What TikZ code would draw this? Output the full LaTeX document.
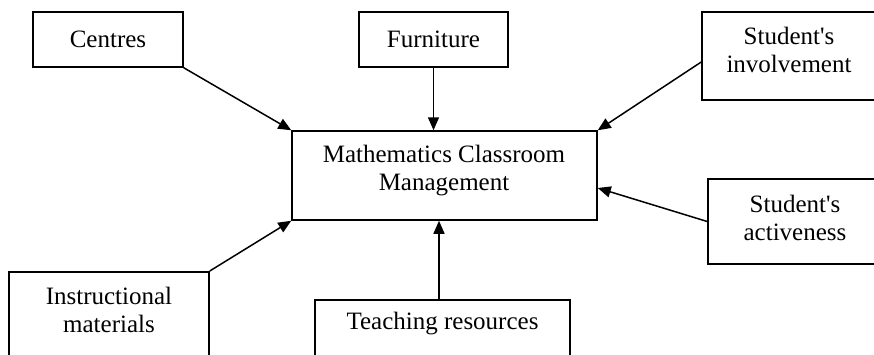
\documentclass[tikz,border=0pt]{standalone}
\usepackage{fontspec}
\setmainfont{Liberation Serif}[Ligatures=TeXOff]
\usetikzlibrary{arrows.meta,calc}
\begin{document}
\begin{tikzpicture}[x=1pt,y=-1pt,
  box/.style={draw,line width=1.5pt,rectangle,inner sep=0pt,align=center,font=\fontsize{25}{28}\selectfont},
  txt/.style={inner sep=0pt,align=center,font=\fontsize{25}{28}\selectfont},
  arr/.style={line width=1.5pt,-{Triangle[length=13pt,width=11pt]}}]
\useasboundingbox[fill=white] (0,0) rectangle (874,354);
\node[box,minimum width=150pt,minimum height=55pt] (centres) at (108,39.5) {Centres};
\node[box,minimum width=149pt,minimum height=55pt] (furn) at (433.5,39.5) {Furniture};
\node[box,minimum width=305pt,minimum height=89pt] (main) at (444.5,175.5) {};
\node[txt] (maintext) at (444,171) {Mathematics Classroom\\Management};
\node[box,minimum width=176pt,minimum height=88pt] (inv) at (790,56) {};
\node[txt] (invtext) at (789,50) {Student's\\involvement};
\node[box,minimum width=170pt,minimum height=85pt] (act) at (793,221.5) {};
\node[txt] (acttext) at (795,218) {Student's\\activeness};
\node[box,minimum width=200pt,minimum height=100pt,anchor=north] (instr) at (109,271) {};
\node[txt] (instrtext) at (109,310) {Instructional\\materials};
\node[box,minimum width=255pt,minimum height=80pt,anchor=north] (teach) at (442.5,299) {};
\node[txt] (teachtext) at (442.5,324) {Teaching resources};
\coordinate (invw) at ($(inv.west)+(0,6)$);
\coordinate (mainE) at ($(main.east)+(0,12.5)$);
\coordinate (teachN) at ($(teach.north)+(-3.5,0)$);
\coordinate (mainS) at (teachN |- main.south);
\draw[arr] (centres.south east) -- (main.north west);
\draw[arr] (furn.south) -- (furn.south |- main.north);
\draw[arr] (invw) -- (main.north east);
\draw[arr] (act.west) -- (mainE);
\draw[arr] (instr.north east) -- (main.south west);
\draw[arr] (teachN) -- (mainS);
\end{tikzpicture}
\end{document}
